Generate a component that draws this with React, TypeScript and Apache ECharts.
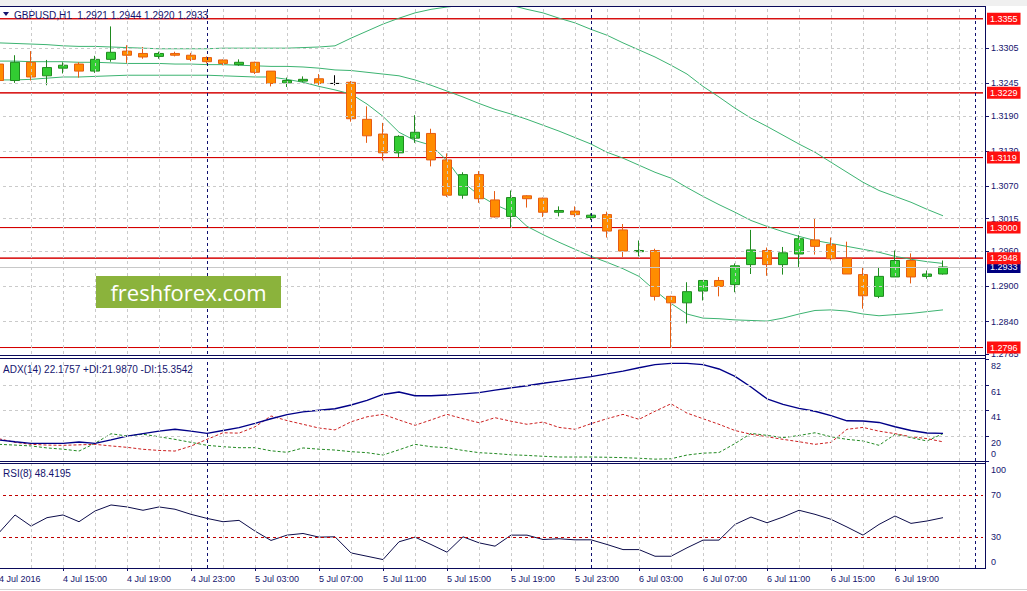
import React, { useEffect, useRef } from 'react';
import * as echarts from 'echarts';

const FONT = '"Liberation Sans", Arial, Helvetica, sans-serif';
const NAVY = '#14146e';

const MONTHS = ['Jan', 'Feb', 'Mar', 'Apr', 'May', 'Jun', 'Jul', 'Aug', 'Sep', 'Oct', 'Nov', 'Dec'];
const START_UTC = Date.UTC(2016, 6, 4, 11); // first visible bar: 4 Jul 2016 11:00
const SLOT_COUNT = 62; // 60 bars + empty slots to the right edge
const categories: string[] = Array.from({ length: SLOT_COUNT }, (_, i) => {
  const d = new Date(START_UTC + i * 3600000);
  return `${d.getUTCDate()} ${MONTHS[d.getUTCMonth()]} ${String(d.getUTCHours()).padStart(2, '0')}:00`;
});
const firstLabel = '4 Jul 2016';
const labelEvery = 4;
const lastLabelIndex = 56;
const daySeparators = [13, 37, 61];

const symbolTitle = 'GBPUSD,H1';
const adxTitle = 'ADX(14) 22.1757 +DI:21.9870 -DI:15.3542';
const rsiTitle = 'RSI(8) 48.4195';
const rsiTopText = '100';

const mainTicks = [1.2785, 1.284, 1.29, 1.296, 1.3015, 1.307, 1.313, 1.319, 1.3245, 1.3305];
const mainMin = 1.2785;
const mainMax = 1.3375;
const levelLines = [1.3355, 1.3229, 1.3119, 1.3, 1.2948, 1.2796];
const adxTicks = [0, 20, 41, 61, 82];
const adxTickTexts = ['0', '20', '41', '61', '82'];
const adxLabelAt = [6, 20, 41, 61, 82]; // "0" is drawn just above the panel floor
const adxGrid = [20, 41, 61];
const rsiTickTexts = ['0', '30', '70'];
const rsiLabelAt = [6, 30, 70]; // "0" is drawn just above the panel floor
const rsiLevels = [30, 70];

// [open, close, low, high]
const candles = [
  [1.3278, 1.325, 1.3246, 1.3283],
  [1.325, 1.3281, 1.3246, 1.3293],
  [1.3281, 1.3256, 1.325, 1.33],
  [1.3258, 1.3272, 1.3242, 1.3285],
  [1.3271, 1.3276, 1.3262, 1.3281],
  [1.3278, 1.3266, 1.3255, 1.3281],
  [1.3266, 1.3286, 1.3263, 1.3292],
  [1.3286, 1.3298, 1.3282, 1.3342],
  [1.33, 1.3293, 1.328, 1.331],
  [1.3296, 1.329, 1.3287, 1.3307],
  [1.3291, 1.3296, 1.3287, 1.3299],
  [1.3296, 1.3293, 1.3291, 1.3299],
  [1.3293, 1.3286, 1.3283, 1.3297],
  [1.3289, 1.3282, 1.3279, 1.3291],
  [1.3285, 1.3279, 1.3276, 1.3286],
  [1.3277, 1.3281, 1.3275, 1.3286],
  [1.3281, 1.3264, 1.3261, 1.3282],
  [1.3266, 1.3245, 1.324, 1.3266],
  [1.3246, 1.325, 1.3239, 1.3255],
  [1.3249, 1.3252, 1.3247, 1.3257],
  [1.3253, 1.3245, 1.3242, 1.3261],
  [1.3245, 1.3245, 1.3242, 1.3259],
  [1.3247, 1.3185, 1.318, 1.3249],
  [1.3184, 1.3156, 1.3144, 1.3206],
  [1.3159, 1.3127, 1.3114, 1.3178],
  [1.3127, 1.3155, 1.312, 1.3157],
  [1.3152, 1.3162, 1.3144, 1.3191],
  [1.316, 1.3115, 1.3104, 1.3168],
  [1.3115, 1.3055, 1.3052, 1.3126],
  [1.3055, 1.309, 1.3049, 1.3094],
  [1.309, 1.3049, 1.3042, 1.3096],
  [1.3047, 1.3018, 1.3017, 1.3062],
  [1.3019, 1.3051, 1.3001, 1.3063],
  [1.3054, 1.3049, 1.3034, 1.3055],
  [1.305, 1.3026, 1.3018, 1.3051],
  [1.3026, 1.3029, 1.3019, 1.3036],
  [1.3028, 1.3022, 1.3018, 1.3036],
  [1.3017, 1.3021, 1.3013, 1.3024],
  [1.3022, 1.2994, 1.2983, 1.3027],
  [1.2996, 1.296, 1.295, 1.3006],
  [1.2959, 1.2961, 1.2951, 1.2978],
  [1.2961, 1.2883, 1.2876, 1.2964],
  [1.2883, 1.2872, 1.2796, 1.2884],
  [1.2872, 1.2891, 1.2837, 1.2907],
  [1.2892, 1.291, 1.2876, 1.291],
  [1.291, 1.29, 1.2883, 1.2916],
  [1.2903, 1.2935, 1.289, 1.2939],
  [1.2937, 1.2962, 1.2921, 1.2996],
  [1.2961, 1.2937, 1.2918, 1.2966],
  [1.2937, 1.2957, 1.292, 1.2967],
  [1.2955, 1.2981, 1.2933, 1.2987],
  [1.2979, 1.2968, 1.2954, 1.3015],
  [1.2971, 1.2947, 1.2944, 1.2983],
  [1.2948, 1.2921, 1.2921, 1.2976],
  [1.292, 1.2884, 1.2862, 1.2933],
  [1.2883, 1.2917, 1.288, 1.2933],
  [1.2916, 1.2944, 1.2916, 1.2961],
  [1.2944, 1.2916, 1.2905, 1.2956],
  [1.2917, 1.2921, 1.2913, 1.2927],
  [1.2921, 1.2933, 1.292, 1.2944],
];

const bbUpper = [
  1.3314, 1.3313, 1.3312, 1.3311, 1.3309, 1.3308, 1.3308, 1.3307, 1.3306, 1.3305,
  1.3304, 1.3304, 1.3304, 1.3304, 1.3305, 1.3305, 1.3305, 1.3305, 1.3305, 1.3306,
  1.3307, 1.3309, 1.3322, 1.3334, 1.3346, 1.3356, 1.3365, 1.3371, 1.3375, 1.3378,
  1.3382, 1.3382, 1.3378, 1.3371, 1.3365, 1.3356, 1.3348, 1.3337, 1.3327, 1.3314,
  1.3302, 1.329, 1.3276, 1.3261, 1.324, 1.3222, 1.3203, 1.3186, 1.3172, 1.3157,
  1.3142, 1.3128, 1.3111, 1.3094, 1.3077, 1.3063, 1.3053, 1.3043, 1.3031, 1.302,
];
const bbMiddle = [
  1.3283, 1.3283, 1.3282, 1.3282, 1.3282, 1.3281, 1.3281, 1.328, 1.3279, 1.3279,
  1.3279, 1.3278, 1.3278, 1.3277, 1.3277, 1.3276, 1.3275, 1.3274, 1.3274, 1.3273,
  1.3271, 1.3268, 1.3267, 1.3264, 1.3261, 1.3258, 1.3251, 1.3242, 1.3232, 1.3222,
  1.3211, 1.3201, 1.3193, 1.3184, 1.3174, 1.3164, 1.3153, 1.3142, 1.3128, 1.3118,
  1.3106, 1.3094, 1.3084, 1.3068, 1.3053, 1.3039, 1.3026, 1.3012, 1.3002, 1.2993,
  1.2985, 1.2978, 1.2973, 1.2968, 1.2963, 1.2958, 1.2951, 1.2946, 1.2942, 1.2939,
];
const bbLower = [
  1.3251, 1.3251, 1.3252, 1.3254, 1.3256, 1.3256, 1.3257, 1.3258, 1.3259, 1.3259,
  1.3259, 1.3259, 1.3259, 1.3259, 1.3258, 1.3257, 1.3256, 1.3256, 1.3252, 1.3247,
  1.324, 1.3234, 1.3227, 1.321, 1.3189, 1.3162, 1.3148, 1.314, 1.3114, 1.3077,
  1.3055, 1.3039, 1.3027, 1.3002, 1.2988, 1.2975, 1.2963, 1.2951, 1.2941, 1.293,
  1.2917, 1.2893, 1.2871, 1.2853, 1.2846, 1.2845, 1.2843, 1.2842, 1.2841, 1.2846,
  1.2853, 1.2859, 1.286, 1.2858, 1.2853, 1.285, 1.2852, 1.2854, 1.2857, 1.286,
];

const adxMain = [
  16.9, 15.5, 14.2, 14.2, 14.2, 15.3, 14.2, 17, 20, 22,
  24, 25.5, 24, 22.2, 24.5, 26.8, 30.3, 34, 37.3, 39.5,
  40.8, 42, 45, 48.8, 53.5, 55.5, 52.5, 52.5, 53, 54,
  55, 57, 58.8, 60.5, 62.5, 64.2, 66, 67.8, 70, 72.3,
  75, 77.5, 78.5, 78.5, 77.5, 74, 68, 59.5, 50, 45.5,
  42.3, 40, 36.5, 32.3, 32.2, 31, 27.5, 24.5, 22.5, 22.2,
];
const adxPlus = [
  13.4, 12.8, 12.1, 10.5, 9.5, 8, 14.2, 21.9, 20.1, 21.5,
  19.5, 17.4, 15, 12.6, 11.5, 10.7, 10.7, 8.2, 7, 10.5,
  9.5, 8.8, 7.5, 6.7, 4.8, 9, 13.4, 11.5, 10.7, 8.5,
  6.7, 6, 5, 4.5, 3.8, 3.2, 3.2, 3.2, 3, 2.7,
  2.2, 1.5, 1.8, 4.8, 6.3, 6.8, 14, 22.2, 20.6, 18.8,
  20.5, 22.7, 19.5, 17.4, 16.1, 12.6, 21.5, 18.8, 16.1, 22,
];
const adxMinus = [
  17.9, 15, 13.4, 12.8, 12.6, 13, 13.4, 12.1, 11, 9.4,
  8.5, 8, 12, 17.4, 22.7, 22.4, 27.5, 36.2, 32.5, 29.5,
  26.5, 25, 31.5, 35.5, 37.5, 33, 28.7, 33, 37.5, 34,
  30.8, 34.8, 32, 29.5, 31.3, 27, 25.5, 30, 34, 37.5,
  33.5, 40, 46, 38.5, 34, 29.5, 24.5, 21.5, 19.5, 17.4,
  15.5, 13.4, 15, 25.5, 27, 24, 22, 19.5, 18, 15.4,
];
const rsi = [
  33.9, 51, 40.3, 48.4, 51, 44.5, 54.8, 60.6, 58.7, 55.5,
  58.7, 56.5, 51.6, 47.7, 44.5, 45.8, 35.5, 26.5, 31.6, 33.2,
  29.7, 30, 14.5, 11.3, 8.1, 25.2, 29.7, 22.6, 15.2, 30,
  24.2, 21, 31.6, 31.6, 27.4, 28.1, 27.1, 27.1, 22.6, 17.7,
  17.7, 11.3, 11.3, 19.4, 26.8, 26.8, 41.9, 49, 43.5, 49,
  55.5, 51.6, 46.8, 39.4, 31.6, 41.9, 50, 42.9, 45.2, 48.4,
];

const last = candles[candles.length - 1];
const lastPrice = last[1];

const GRID_LEFT = -9;
const GRID_WIDTH = 992;
const grids = [
  { top: 7, height: 347 },
  { top: 359, height: 102 },
  { top: 464, height: 104 },
];

const verticalCats = categories.filter((_, i) => i % 2 === 0 && i <= 60);

function markSeries(
  name: string,
  g: number,
  z: number,
  color: string,
  lineStyle: any,
  data: any[],
  label: any = { show: false }
) {
  return {
    name,
    type: 'line',
    xAxisIndex: g,
    yAxisIndex: g,
    data: [],
    z,
    silent: true,
    color,
    markLine: {
      silent: true,
      precision: 4,
      symbol: ['none', 'none'],
      label,
      emphasis: { disabled: true },
      lineStyle,
      data,
    },
  };
}

const gridStyle = { color: '#cacaca', type: [3, 3], width: 1, opacity: 1 };
const sepStyle = { color: '#10106e', type: [3, 3], width: 1, opacity: 1 };

function gridSeries(g: number, extra: any[]) {
  return markSeries(`grid${g}`, g, 1, '#cacaca', gridStyle, [
    ...verticalCats.map((c) => ({ xAxis: c, lineStyle: gridStyle })),
    ...extra,
  ]);
}

function sepSeries(g: number) {
  return markSeries(
    `sep${g}`,
    g,
    6,
    '#10106e',
    sepStyle,
    daySeparators.map((i) => ({ xAxis: categories[i], lineStyle: sepStyle }))
  );
}

const labelStyle = { fontSize: 9, fontFamily: FONT, color: NAVY };

function buildOption() {
  const xAxes = grids.map((_, g) => ({
    type: 'category',
    gridIndex: g,
    data: categories,
    boundaryGap: true,
    axisLine: { show: false },
    axisTick: {
      show: g === 2,
      alignWithLabel: true,
      length: 3,
      interval: (i: number) => i % labelEvery === 0 && i <= lastLabelIndex,
      lineStyle: { color: NAVY },
    },
    axisLabel: {
      show: g === 2,
      ...labelStyle,
      align: 'left',
      margin: 6,
      interval: (i: number) => i % labelEvery === 0 && i <= lastLabelIndex,
      formatter: (v: string, i: number) => (i === 0 ? firstLabel : v),
    },
    splitLine: { show: false },
  }));

  const richShift = {
    down: { ...labelStyle, padding: [13, 0, 0, 0] },
  };

  const baseY = (gridIndex: number, min: number, max: number) => ({
    type: 'value',
    gridIndex,
    position: 'right',
    offset: 2,
    min,
    max,
    axisLine: { show: false },
    splitLine: { show: false },
  });

  const yAxes = [
    {
      ...baseY(0, mainMin, mainMax),
      axisTick: { show: true, customValues: mainTicks, length: 4, lineStyle: { color: NAVY } },
      axisLabel: {
        ...labelStyle,
        customValues: mainTicks,
        margin: 6,
        formatter: (v: number) => v.toFixed(4),
      },
    },
    {
      ...baseY(1, 0, 82),
      axisTick: { show: true, customValues: adxTicks, length: 4, lineStyle: { color: NAVY } },
      axisLabel: {
        ...labelStyle,
        customValues: adxLabelAt,
        margin: 6,
        formatter: (v: number) => {
          const t = adxTickTexts[adxLabelAt.indexOf(v)];
          return v === adxLabelAt[0] ? t : `{down|${t}}`;
        },
        rich: richShift,
      },
    },
    {
      ...baseY(2, 0, 100),
      axisTick: { show: false },
      axisLabel: {
        ...labelStyle,
        customValues: rsiLabelAt,
        margin: 6,
        formatter: (v: number) => rsiTickTexts[rsiLabelAt.indexOf(v)],
      },
    },
  ];

  const levelLabel = {
    show: true,
    position: 'end',
    distance: 4,
    formatter: (p: any) => Number(p.value).toFixed(4),
    color: '#ffffff',
    backgroundColor: '#ff1010',
    padding: [2, 3, 1, 3],
    fontSize: 9,
    fontFamily: FONT,
    opacity: 1,
  };
  const clearStyle = { color: 'rgba(0,0,0,0)', type: 'solid', width: 0, opacity: 1 };
  const priceStyle = { color: '#c8c8c8', type: 'solid', width: 1, opacity: 1 };

  const series: any[] = [
    gridSeries(0, mainTicks.slice(1).map((v) => ({ yAxis: v, lineStyle: gridStyle }))),
    ...[bbUpper, bbMiddle, bbLower].map((d) => ({
      type: 'line',
      xAxisIndex: 0,
      yAxisIndex: 0,
      data: d,
      symbol: 'none',
      z: 2,
      silent: true,
      lineStyle: { color: '#3cb371', width: 1 },
    })),
    {
      type: 'candlestick',
      xAxisIndex: 0,
      yAxisIndex: 0,
      data: candles,
      barWidth: 9,
      z: 3,
      itemStyle: {
        color: '#32cd32',
        color0: '#ff8c00',
        borderColor: '#1f8a1f',
        borderColor0: '#e65c12',
        borderColorDoji: '#000000',
        borderWidth: 1,
      },
    },
    markSeries(
      'current',
      0,
      4,
      '#c8c8c8',
      priceStyle,
      [{ yAxis: lastPrice, lineStyle: priceStyle }],
      { ...levelLabel, backgroundColor: '#000080' }
    ),
    {
      name: 'levels',
      type: 'line',
      xAxisIndex: 0,
      yAxisIndex: 0,
      data: [],
      z: 5,
      silent: true,
      color: '#d40000',
      // the red lines themselves
      markArea: {
        silent: true,
        emphasis: { disabled: true },
        label: { show: false },
        itemStyle: { color: 'rgba(0,0,0,0)', borderColor: '#d40000', borderWidth: 1, borderType: 'solid' },
        data: levelLines.map((v) => [{ yAxis: v }, { yAxis: v }]),
      },
      // the red price boxes on the right
      markLine: {
        silent: true,
        precision: 4,
        symbol: ['none', 'none'],
        emphasis: { disabled: true },
        label: levelLabel,
        lineStyle: clearStyle,
        data: levelLines.map((v) => ({ yAxis: v, lineStyle: clearStyle, label: levelLabel })),
      },
    },
    sepSeries(0),
    gridSeries(1, adxGrid.map((v) => ({ yAxis: v, lineStyle: gridStyle }))),
    {
      type: 'line',
      xAxisIndex: 1,
      yAxisIndex: 1,
      data: adxPlus,
      symbol: 'none',
      z: 2,
      silent: true,
      lineStyle: { color: '#238a23', width: 1, type: [3, 2] },
    },
    {
      type: 'line',
      xAxisIndex: 1,
      yAxisIndex: 1,
      data: adxMinus,
      symbol: 'none',
      z: 2,
      silent: true,
      lineStyle: { color: '#cc2020', width: 1, type: [3, 2] },
    },
    {
      type: 'line',
      xAxisIndex: 1,
      yAxisIndex: 1,
      data: adxMain,
      symbol: 'none',
      z: 3,
      silent: true,
      lineStyle: { color: '#000088', width: 1.4 },
    },
    sepSeries(1),
    gridSeries(
      2,
      rsiLevels.map((v) => ({ yAxis: v, lineStyle: { color: '#c00000', type: [3, 3], width: 1 } }))
    ),
    {
      type: 'line',
      xAxisIndex: 2,
      yAxisIndex: 2,
      data: rsi,
      symbol: 'none',
      z: 3,
      silent: true,
      lineStyle: { color: '#0c0c4a', width: 1 },
    },
    sepSeries(2),
  ];

  const frameLine = (x1: number, y1: number, x2: number, y2: number, color = '#0a0a5a') => ({
    type: 'line',
    z: 20,
    silent: true,
    shape: { x1, y1, x2, y2 },
    style: { stroke: color, lineWidth: 1 },
  });

  const header = `${symbolTitle}  ${last[0].toFixed(4)} ${last[3].toFixed(4)} ${last[2].toFixed(4)} ${last[1].toFixed(4)}`;

  const graphic = [
    { type: 'rect', z: 19, silent: true, shape: { x: 0, y: 0, width: 1027, height: 6 }, style: { fill: '#f0f0f0' } },
    frameLine(0, 6.5, 986, 6.5),
    frameLine(0, 355.5, 986, 355.5),
    frameLine(0, 358.5, 986, 358.5),
    frameLine(0, 461.5, 986, 461.5),
    frameLine(0, 463.5, 986, 463.5),
    frameLine(0, 568.5, 986, 568.5),
    frameLine(985.5, 6, 985.5, 569),
    frameLine(0, 589.5, 1027, 589.5, '#d4d4d4'),
    {
      type: 'polygon',
      z: 21,
      silent: true,
      shape: { points: [[3, 12], [9, 12], [6, 16]] },
      style: { fill: NAVY },
    },
    {
      type: 'text',
      z: 21,
      silent: true,
      x: 14,
      y: 15,
      style: { text: header, fill: NAVY, font: `10px ${FONT}`, verticalAlign: 'middle' },
    },
    {
      type: 'text',
      z: 21,
      silent: true,
      x: 3,
      y: 369,
      style: { text: adxTitle, fill: NAVY, font: `10px ${FONT}`, verticalAlign: 'middle' },
    },
    {
      type: 'text',
      z: 21,
      silent: true,
      x: 3,
      y: 473,
      style: { text: rsiTitle, fill: NAVY, font: `10px ${FONT}`, verticalAlign: 'middle' },
    },
    {
      type: 'text',
      z: 21,
      silent: true,
      x: 991,
      y: 470,
      style: { text: rsiTopText, fill: NAVY, font: `9px ${FONT}`, verticalAlign: 'middle' },
    },
    {
      type: 'rect',
      z: 21,
      silent: true,
      shape: { x: 96, y: 276, width: 185, height: 32 },
      style: { fill: '#8bb33c' },
    },
    {
      type: 'text',
      z: 22,
      silent: true,
      x: 188.5,
      y: 292,
      style: {
        text: 'freshforex.com',
        fill: '#ffffff',
        font: `22px "Open Sans", "Noto Sans", sans-serif`,
        align: 'center',
        verticalAlign: 'middle',
      },
    },
  ];

  return {
    animation: false,
    backgroundColor: '#ffffff',
    grid: grids.map((g) => ({
      left: GRID_LEFT,
      width: GRID_WIDTH,
      top: g.top,
      height: g.height,
      containLabel: false,
      outerBoundsMode: 'none',
    })),
    xAxis: xAxes,
    yAxis: yAxes,
    series,
    graphic,
  };
}

export default function App() {
  const ref = useRef<HTMLDivElement>(null);
  useEffect(() => {
    if (!ref.current) return;
    const chart = echarts.init(ref.current, null, { renderer: 'svg' });
    chart.setOption(buildOption() as any);
    return () => chart.dispose();
  }, []);
  return (
    <div
      ref={ref}
      style={{ width: 1027, height: 591, position: 'absolute', left: 0, top: 0, background: '#fff' }}
    />
  );
}
